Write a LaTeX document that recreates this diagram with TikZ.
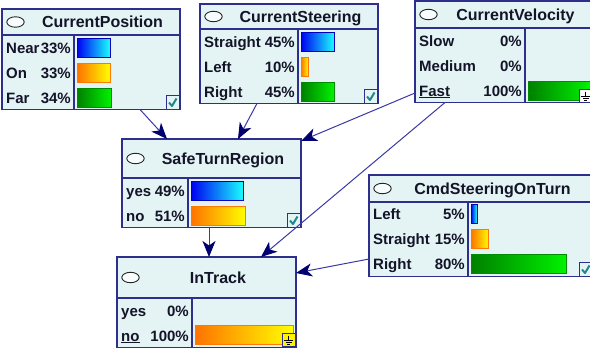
\documentclass[tikz,border=0pt]{standalone}
\usepackage{fontspec}
\setmainfont{Liberation Sans}
\usetikzlibrary{arrows.meta}

\definecolor{bnfill}{HTML}{E4F4F5}
\definecolor{bnborder}{HTML}{2E2E8C}
\definecolor{bntext}{HTML}{141428}
\definecolor{bnlink}{HTML}{3A3AA8}
\definecolor{bnhead}{HTML}{000070}
\definecolor{bncheck}{HTML}{1E8A8A}

\tikzset{
  bnframe/.style={rectangle, draw=bnborder, fill=bnfill, line width=1.3pt,
    inner sep=0pt, outer sep=0pt, anchor=north west},
  bnrule/.style={draw=bnborder, line width=1.1pt},
  bntitle/.style={font=\bfseries\fontsize{16}{17}\selectfont, text=bntext,
    inner sep=0pt, anchor=base},
  bnrow/.style={font=\bfseries\fontsize{15}{16}\selectfont, text=bntext,
    inner sep=0pt},
  bluebar/.style={left color=blue!95!black, right color=cyan!90!white,
    draw=blue!75!black, line width=0.9pt},
  orangebar/.style={left color=orange!90!red, right color=yellow,
    draw=orange!95!red, line width=0.9pt},
  greenbar/.style={left color=green!50!black, right color=green!95!black,
    draw=green!55!black, line width=0.9pt},
  link/.style={draw=bnlink, line width=1pt,
    -{Stealth[length=16pt, width=13pt, inset=4.5pt, color=bnhead]}},
}

\newcounter{bnctr}

% node frame: name, left, top, right, header bottom, divider, rows, title
\newcommand\bnbox[8]{%
  \pgfmathsetmacro\bnB{#5+25*#7-0.5}%
  \pgfmathsetmacro\bnW{#4-#2}%
  \pgfmathsetmacro\bnH{\bnB-#3}%
  \node[bnframe, minimum width=\bnW pt, minimum height=\bnH pt] (#1) at (#2,#3) {};
  \draw[bnrule] (#2,#5) -- (#4,#5);
  \draw[bnrule] (#6,#5) -- (#6,\bnB);
  \draw[black!85, line width=0.9pt, fill=white!70!bnfill] ({#2+13.5},{(#3+#5)/2}) ellipse (8.7 and 5.2);
  \node[bntitle] (#1-title) at ({(#2+23+#4)/2},{(#3+#5)/2+5.7}) {#8};
}

% state row: left, divider, row centre, label, percentage
\newcommand\bnstate[5]{%
  \stepcounter{bnctr}%
  \node[bnrow, anchor=base west] (lab\thebnctr) at ({#1+4},{#3+5.5}) {#4};
  \node[bnrow, anchor=base east] (pct\thebnctr) at ({#2-3},{#3+5.5}) {#5};
}

% belief bar: divider, full length, percentage, row centre, style
\newcommand\bnbar[5]{%
  \path[#5] ({#1+3},{#4-9.5}) rectangle ++({#2*#3/100},19);
}

% check box in the lower right corner: right, bottom
\newcommand\bncheckbox[2]{%
  \draw[bnborder, line width=1pt, fill=bnfill] ({#1-14},{#2-14}) rectangle ({#1-1},{#2});
  \draw[bncheck, line width=2pt, line join=round]
    ({#1-11},{#2-7}) -- ({#1-8},{#2-3.5}) -- ({#1-3.5},{#2-11});
}

% evidence (ground) marker: right, bottom, fill colour
\newcommand\bnground[3]{%
  \draw[bnborder, line width=1pt, fill=#3] ({#1-14},{#2-13}) rectangle ({#1-1},{#2});
  \draw[black, line width=0.8pt]
    ({#1-7.5},{#2-11}) -- ({#1-7.5},{#2-6})
    ({#1-12},{#2-6}) -- ({#1-3},{#2-6})
    ({#1-10.5},{#2-4}) -- ({#1-4.5},{#2-4})
    ({#1-9},{#2-2}) -- ({#1-6},{#2-2});
}

\begin{document}
\begin{tikzpicture}[x=1pt, y=-1pt]
  \fill[white] (0,0) rectangle (590,348);
  \useasboundingbox (0,0) rectangle (590,348);

  % CurrentPosition
  \bnbox{cp}{2}{9}{180}{35}{74}{3}{CurrentPosition}
  \bnstate{2}{74}{47.5}{Near}{33\%}
  \bnstate{2}{74}{72.5}{On}{33\%}
  \bnstate{2}{74}{97.5}{Far}{34\%}
  \bnbar{74}{100}{33}{47.5}{bluebar}
  \bnbar{74}{100}{33}{72.5}{orangebar}
  \bnbar{74}{100}{34}{97.5}{greenbar}
  \bncheckbox{180}{109.5}

  % CurrentSteering
  \bnbox{cs}{200}{4}{378}{29}{298}{3}{CurrentSteering}
  \bnstate{200}{298}{41.5}{Straight}{45\%}
  \bnstate{200}{298}{66.5}{Left}{10\%}
  \bnstate{200}{298}{91.5}{Right}{45\%}
  \bnbar{298}{74}{45}{41.5}{bluebar}
  \bnbar{298}{74}{10}{66.5}{orangebar}
  \bnbar{298}{74}{45}{91.5}{greenbar}
  \bncheckbox{378}{103.5}

  % CurrentVelocity
  \bnbox{cv}{415}{1}{593}{28}{525}{3}{CurrentVelocity}
  \bnstate{415}{525}{40.5}{Slow}{0\%}
  \bnstate{415}{525}{65.5}{Medium}{0\%}
  \bnstate{415}{525}{90.5}{\underline{Fast}}{100\%}
  \bnbar{525}{62}{100}{90.5}{greenbar}
  \bnground{593}{102.5}{white}

  % SafeTurnRegion
  \bnbox{str}{122}{139}{301}{178}{188}{2}{SafeTurnRegion}
  \bnstate{122}{188}{190.5}{yes}{49\%}
  \bnstate{122}{188}{215.5}{no}{51\%}
  \bnbar{188}{107}{49}{190.5}{bluebar}
  \bnbar{188}{107}{51}{215.5}{orangebar}
  \bncheckbox{301}{227.5}

  % CmdSteeringOnTurn
  \bnbox{cmd}{369}{175}{593}{202}{468}{3}{CmdSteeringOnTurn}
  \bnstate{369}{468}{214}{Left}{5\%}
  \bnstate{369}{468}{239}{Straight}{15\%}
  \bnstate{369}{468}{264}{Right}{80\%}
  \bnbar{468}{119}{5}{214}{bluebar}
  \bnbar{468}{119}{15}{239}{orangebar}
  \bnbar{468}{119}{80}{264}{greenbar}
  \bncheckbox{593}{276.5}

  % InTrack
  \bnbox{it}{117}{257}{296}{298}{192}{2}{InTrack}
  \bnstate{117}{192}{310.5}{yes}{0\%}
  \bnstate{117}{192}{335.5}{\underline{no}}{100\%}
  \bnbar{192}{98}{100}{335}{orangebar}
  \bnground{296}{346.5}{yellow}

  % link end points on the frames
  \coordinate (cp-out)   at (140,109.5);
  \coordinate (cs-out)   at (257,103.5);
  \coordinate (cv-out1)  at (415,93);
  \coordinate (cv-out2)  at (445,102.5);
  \coordinate (str-out)  at (209,227.5);
  \coordinate (cmd-out)  at (369,259);
  \coordinate (str-in1)  at (167,139);
  \coordinate (str-in2)  at (238,139);
  \coordinate (str-in3)  at (301,141);
  \coordinate (it-in1)   at (209,257);
  \coordinate (it-in2)   at (261,257);
  \coordinate (it-in3)   at (296,273);

  % links
  \draw[link] (cp-out)  -- (str-in1);
  \draw[link] (cs-out)  -- (str-in2);
  \draw[link] (cv-out1) -- (str-in3);
  \draw[link] (cv-out2) -- (it-in2);
  \draw[link] (str-out) -- (it-in1);
  \draw[link] (cmd-out) -- (it-in3);
\end{tikzpicture}
\end{document}
